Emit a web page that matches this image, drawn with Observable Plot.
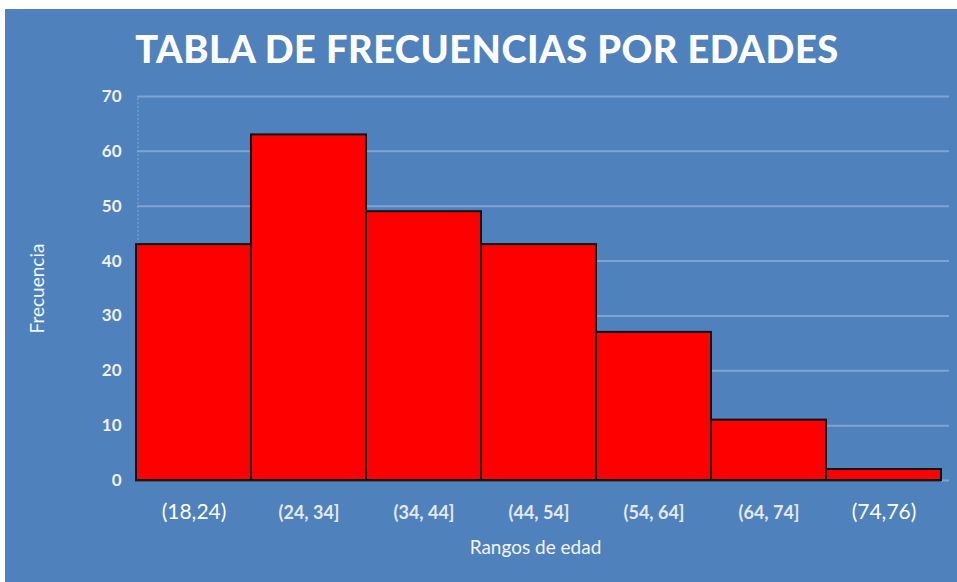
<!DOCTYPE html>
<html>
<head>
<meta charset="utf-8">
<script src="https://cdn.jsdelivr.net/npm/d3@7"></script>
<script src="https://cdn.jsdelivr.net/npm/@observablehq/plot@0.6"></script>
<style>
  html, body { margin: 0; padding: 0; background: #ffffff; width: 957px; height: 582px; overflow: hidden; }
  #panel { position: absolute; left: 5px; top: 9px; width: 952px; height: 573px; background: #4f81bd; }
  #title { height: 75px; line-height: 78px; text-align: center; padding-left: 12px; color: #ffffff;
           font-family: Lato, "Open Sans", sans-serif; font-weight: 900; font-size: 38px; letter-spacing: 0.5px; }
  #chart svg { display: block; }
</style>
</head>
<body>
<div id="panel">
  <div id="title">TABLA DE FRECUENCIAS POR EDADES</div>
  <div id="chart"></div>
</div>
<script>
const categories = ["(18,24)", "(24, 34]", "(34, 44]", "(44, 54]", "(54, 64]", "(64, 74]", "(74,76)"];
const frecuencias = [43, 63, 49, 43, 27, 11, 2];
const yTicks = [0, 10, 20, 30, 40, 50, 60, 70];
const plainLabels = ["(18,24)", "(74,76)"];
const yTitle = "Frecuencia";
const xTitle = "Rangos de edad";

const data = categories.map((c, i) => ({rango: c, frecuencia: frecuencias[i]}));

const chart = Plot.plot({
  width: 952,
  height: 498,
  marginTop: 12,
  marginBottom: 102,
  marginLeft: 130,
  marginRight: 16,
  style: {background: "transparent", color: "#ffffff", fontFamily: "Lato, 'Open Sans', sans-serif", fontSize: "16px", overflow: "visible"},
  x: {domain: categories, padding: 0, axis: null},
  y: {domain: [0, 70], axis: null},
  marks: [
    Plot.ruleX([categories[0]], {x: d => d, y1: 0, y2: 70, stroke: "#7ea4d4", strokeDasharray: "2,2", strokeWidth: 1, dx: -56}),
    Plot.ruleY(yTicks, {stroke: "#7ea4d4", strokeWidth: 2, insetLeft: 2, insetRight: -8}),
    Plot.barY(data, {x: "rango", y: "frecuencia", fill: "#ff0000", stroke: "#111111", strokeWidth: 2}),
    Plot.ruleY([0], {stroke: "#1a1a1a", strokeWidth: 2}),
    Plot.axisY({ticks: yTicks, tickSize: 0, tickPadding: 14, fontWeight: "bold", fontSize: 17, fill: "#eef1f7", label: null}),
    Plot.text(data.filter(d => !plainLabels.includes(d.rango)), {x: "rango", y: 0, text: "rango", dy: 33, fontSize: 18, fontWeight: "bold", fill: "#e3e9f2"}),
    Plot.text(data.filter(d => plainLabels.includes(d.rango)), {x: "rango", y: 0, text: "rango", dy: 32, fontSize: 21, fill: "#ffffff"}),
    Plot.text([yTitle], {frameAnchor: "left", textAnchor: "middle", rotate: -90, dx: -98, fontSize: 19, fill: "#f2f4f8"}),
    Plot.text([xTitle], {frameAnchor: "bottom", dy: 73, dx: -3, fontSize: 19, fill: "#f2f4f8"})
  ]
});
document.getElementById("chart").appendChild(chart);
</script>
</body>
</html>
